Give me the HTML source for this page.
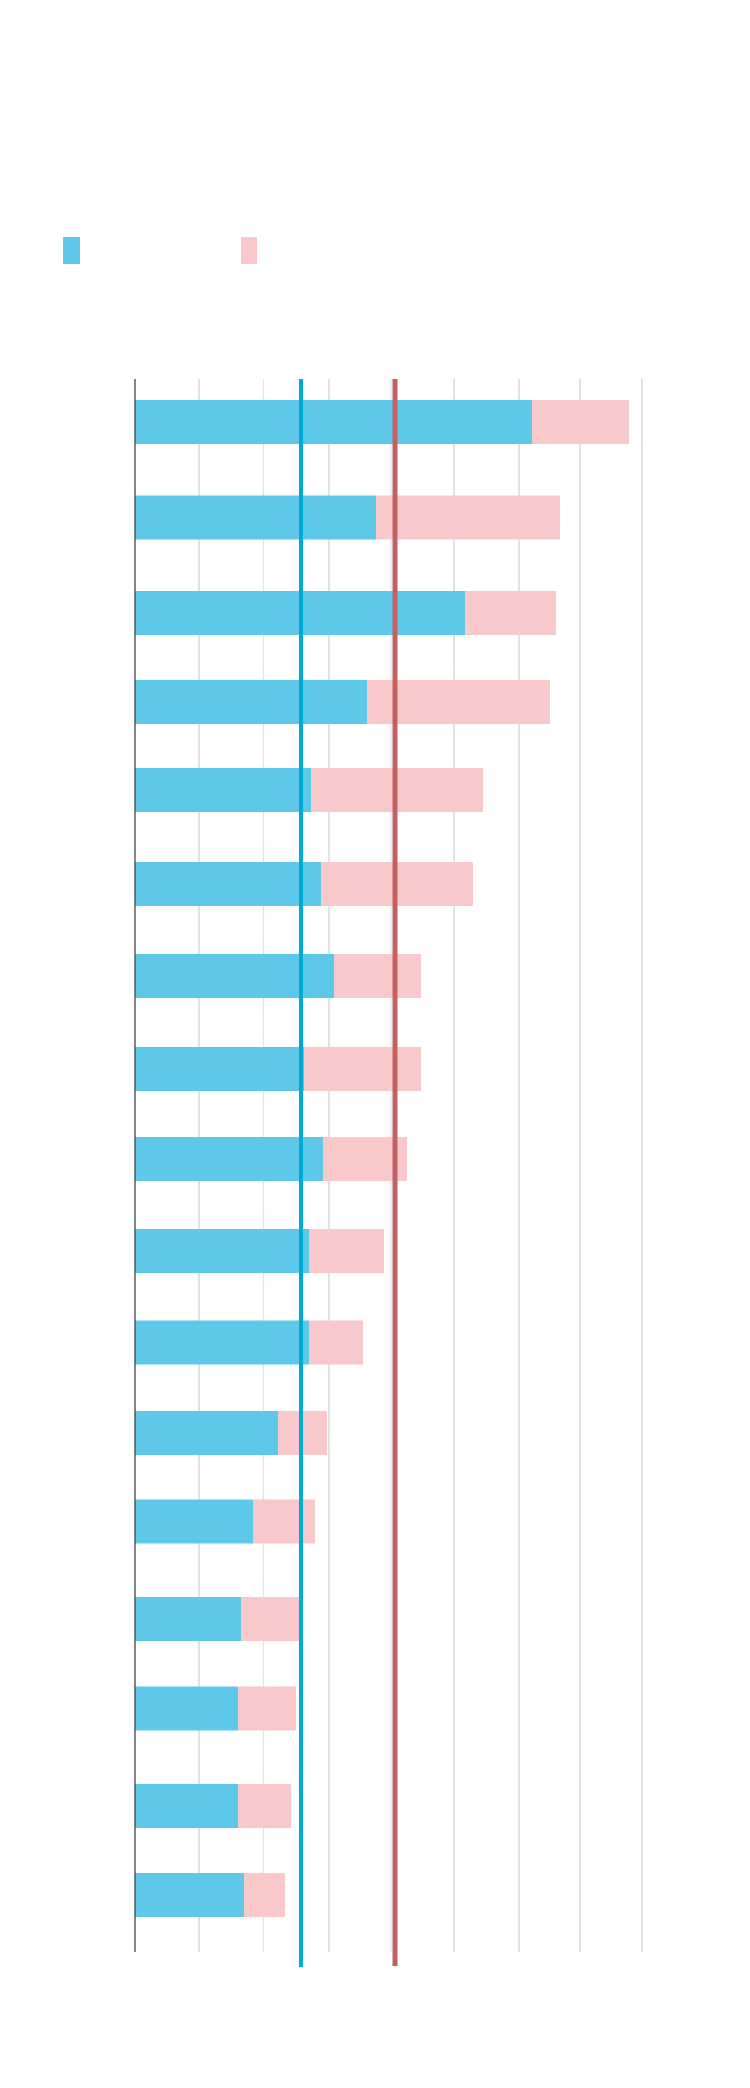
<!DOCTYPE html>
<html><head><meta charset="utf-8"><style>
html,body{margin:0;padding:0;background:#fff;}
body{width:750px;height:2088px;position:relative;overflow:hidden;font-family:"Liberation Sans",sans-serif;}
</style></head><body>
<svg width="750" height="2088" xmlns="http://www.w3.org/2000/svg" style="position:absolute;left:0;top:0">
<rect x="63" y="237" width="17" height="27" fill="#5ec8e8"/>
<rect x="241" y="237" width="16" height="27" fill="#f8c8ca"/>
<g stroke="#c9d0d5" stroke-width="1.2">
<line x1="199" y1="379" x2="199" y2="1952"/>
<line x1="263.5" y1="379" x2="263.5" y2="1952" stroke="#dfe3e5"/>
<line x1="329" y1="379" x2="329" y2="1952"/>
<line x1="391" y1="379" x2="391" y2="1952" stroke="#dfe3e5"/>
<line x1="454" y1="379" x2="454" y2="1952"/>
<line x1="519" y1="379" x2="519" y2="1952"/>
<line x1="580" y1="379" x2="580" y2="1952"/>
<line x1="642" y1="379" x2="642" y2="1952"/>
</g>
<g>
<rect x="135" y="400" width="397" height="44" fill="#5ec8e8"/><rect x="532" y="400" width="97" height="44" fill="#f8c8ca"/>
<rect x="135" y="495.5" width="241" height="44" fill="#5ec8e8"/><rect x="376" y="495.5" width="184" height="44" fill="#f8c8ca"/>
<rect x="135" y="591" width="330" height="44" fill="#5ec8e8"/><rect x="465" y="591" width="91" height="44" fill="#f8c8ca"/>
<rect x="135" y="680" width="232" height="44" fill="#5ec8e8"/><rect x="367" y="680" width="183" height="44" fill="#f8c8ca"/>
<rect x="135" y="768" width="176" height="44" fill="#5ec8e8"/><rect x="311" y="768" width="172" height="44" fill="#f8c8ca"/>
<rect x="135" y="862" width="186" height="44" fill="#5ec8e8"/><rect x="321" y="862" width="152" height="44" fill="#f8c8ca"/>
<rect x="135" y="954" width="199" height="44" fill="#5ec8e8"/><rect x="334" y="954" width="87" height="44" fill="#f8c8ca"/>
<rect x="135" y="1047" width="169" height="44" fill="#5ec8e8"/><rect x="304" y="1047" width="117" height="44" fill="#f8c8ca"/>
<rect x="135" y="1137" width="188" height="44" fill="#5ec8e8"/><rect x="323" y="1137" width="84" height="44" fill="#f8c8ca"/>
<rect x="135" y="1229" width="174" height="44" fill="#5ec8e8"/><rect x="309" y="1229" width="75" height="44" fill="#f8c8ca"/>
<rect x="135" y="1320.5" width="174" height="44" fill="#5ec8e8"/><rect x="309" y="1320.5" width="54" height="44" fill="#f8c8ca"/>
<rect x="135" y="1411" width="143" height="44" fill="#5ec8e8"/><rect x="278" y="1411" width="49" height="44" fill="#f8c8ca"/>
<rect x="135" y="1499.5" width="118" height="44" fill="#5ec8e8"/><rect x="253" y="1499.5" width="62" height="44" fill="#f8c8ca"/>
<rect x="135" y="1597" width="106" height="44" fill="#5ec8e8"/><rect x="241" y="1597" width="58" height="44" fill="#f8c8ca"/>
<rect x="135" y="1686.5" width="103" height="44" fill="#5ec8e8"/><rect x="238" y="1686.5" width="58" height="44" fill="#f8c8ca"/>
<rect x="135" y="1784" width="103" height="44" fill="#5ec8e8"/><rect x="238" y="1784" width="53" height="44" fill="#f8c8ca"/>
<rect x="135" y="1873" width="109" height="44" fill="#5ec8e8"/><rect x="244" y="1873" width="41" height="44" fill="#f8c8ca"/>
</g>
<line x1="135" y1="379" x2="135" y2="1952" stroke="#444" stroke-width="1.3"/>
<line x1="301" y1="379" x2="301" y2="1967" stroke="#00aad6" stroke-width="4"/>
<line x1="395" y1="379" x2="395" y2="1966" stroke="#c46060" stroke-width="5"/>
</svg>
</body></html>
